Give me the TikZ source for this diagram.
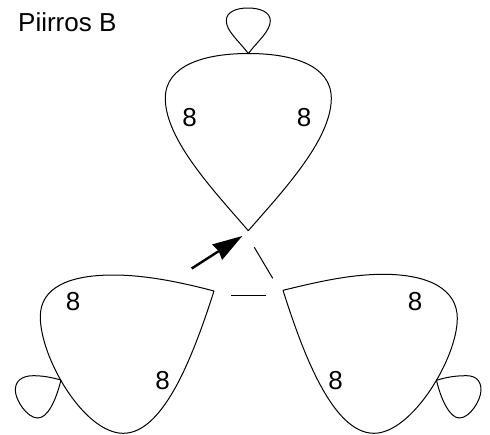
\documentclass[tikz,border=0pt]{standalone}
\usepackage{fontspec}
\setmainfont{Liberation Sans}
\usetikzlibrary{arrows.meta}
\tikzset{
  curve/.style={draw=black,line width=1pt,line join=miter},
  seg/.style={draw=black,line width=1pt},
  lbl/.style={inner sep=0pt,text=black,font=\fontsize{26}{26}\selectfont},
  pointer/.style={draw=black,line width=2.4pt,-{Stealth[length=30pt,width=18.5pt,inset=2pt,line width=0pt]}}
}
\begin{document}
\begin{tikzpicture}[x=1pt,y=-1pt]
\useasboundingbox (0,0) rectangle (490,434);
% top leaf
\draw[curve] (248.3,230.7) .. controls (215,192) and (165.3,140) .. (165.3,98.3)
  .. controls (165.3,65) and (205,53.5) .. (248.3,53.5)
  .. controls (292,53.5) and (331.3,65) .. (331.3,98.3)
  .. controls (331.3,140) and (282,192) .. (248.3,230.7);
\draw[curve] (248.3,53.5) .. controls (238,40) and (226.3,31) .. (226.3,20.7)
  .. controls (226.3,12) and (236,8) .. (248,8)
  .. controls (260,8) and (270.3,12) .. (270.3,20.7)
  .. controls (270.3,31) and (258,41) .. (248.3,53.5);
% left leaf
\draw[curve] (214,291) .. controls (180,282) and (145,275) .. (113.3,275)
  .. controls (70,275) and (40.3,287) .. (40.3,316.7)
  .. controls (40.3,358) and (84,433.3) .. (123.3,433.3)
  .. controls (165,433.3) and (195,350) .. (214,291);
\draw[curve] (61,380) .. controls (50,377) and (42,375.7) .. (33.3,375.7)
  .. controls (22,375.7) and (15.3,381) .. (15.3,390)
  .. controls (15.3,400) and (27,418) .. (37.7,418)
  .. controls (48,418) and (56,400) .. (61,380);
% right leaf
\draw[curve] (283,290.3) .. controls (317,282) and (350,274.3) .. (383.3,274.3)
  .. controls (430,274.3) and (457.3,290) .. (457.3,318.3)
  .. controls (457.3,358) and (412,433.3) .. (374,433.3)
  .. controls (332,433.3) and (302,350) .. (283,290.3);
\draw[curve] (436.5,380.3) .. controls (447,377) and (456,375.7) .. (466.7,375.7)
  .. controls (476,375.7) and (481,381) .. (481,390)
  .. controls (481,400) and (470,418) .. (459.3,418)
  .. controls (450,418) and (441,400) .. (436.5,380.3);
% segments
\coordinate (sa) at (231,295);
\coordinate (sb) at (265.7,295);
\coordinate (sc) at (254.3,247.3);
\coordinate (sd) at (272.7,278.3);
\coordinate (ps) at (191.7,268.5);
\coordinate (pe) at (242.3,236);
\draw[seg] (sa) -- (sb);
\draw[seg] (sc) -- (sd);
\draw[pointer] (ps) -- (pe);
% labels
\node[lbl,anchor=base west] (title) at (18,31) {Piirros B};
\node[lbl,anchor=base] (t1) at (189.5,126) {8};
\node[lbl,anchor=base] (t2) at (304,126) {8};
\node[lbl,anchor=base] (l1) at (73,310) {8};
\node[lbl,anchor=base] (l2) at (162.5,389) {8};
\node[lbl,anchor=base] (r1) at (415,310) {8};
\node[lbl,anchor=base] (r2) at (335.5,389) {8};
\end{tikzpicture}
\end{document}
